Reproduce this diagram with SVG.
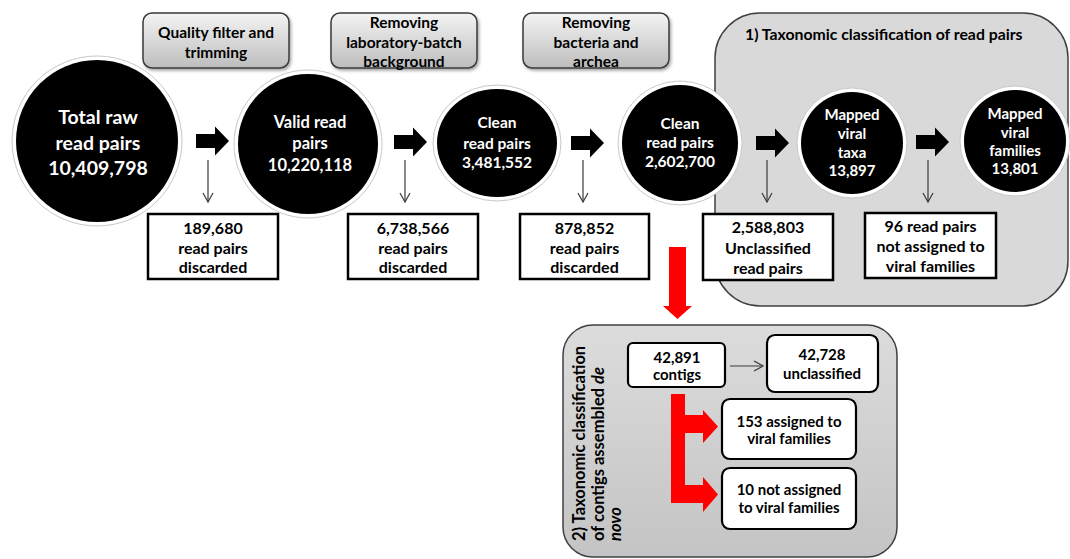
<svg xmlns="http://www.w3.org/2000/svg" width="1070" height="559" viewBox="0 0 1070 559">
<defs>
<linearGradient id="gbox" x1="0" y1="0" x2="0" y2="1">
<stop offset="0" stop-color="#f4f4f4"/><stop offset="1" stop-color="#bdbdbd"/>
</linearGradient>
<linearGradient id="gpan2" x1="0" y1="0" x2="0" y2="1">
<stop offset="0" stop-color="#dcdcdc"/><stop offset="1" stop-color="#c4c4c4"/>
</linearGradient>
<filter id="sh" x="-10%" y="-10%" width="130%" height="140%">
<feDropShadow dx="1.5" dy="2" stdDeviation="1.5" flood-color="#000" flood-opacity="0.35"/>
</filter>
<path id="blk" d="M0,-7 H19 V-14.5 L33,0 L19,14.5 V7 H0 Z"/>
<marker id="vh" markerWidth="12" markerHeight="12" refX="10" refY="6" orient="auto" markerUnits="userSpaceOnUse">
<path d="M1,1 L10,6 L1,11" fill="none" stroke="#3a3a3a" stroke-width="1.2"/>
</marker>
</defs>
<style>
text{font-family:Lato,"Liberation Sans",sans-serif;font-weight:700;text-anchor:middle}
.w{fill:#fff}
.k{fill:#000}
.step{fill:url(#gbox);stroke:#3a3a3a;stroke-width:1.5;filter:url(#sh)}
.disc{fill:#fff;stroke:#000;stroke-width:2.5}
.pbox{fill:#fff;stroke:#000;stroke-width:2.2}
.ring{fill:#fff;stroke:#c8c8c8;stroke-width:1}
.thin{stroke:#3a3a3a;stroke-width:1.2;fill:none;marker-end:url(#vh)}
.red{fill:#ff0000}
.dt{font-size:16px}
.vt{text-anchor:start;font-size:16.5px}
</style>

<!-- panels -->
<g id="panel1">
<rect x="715" y="13" width="353" height="293" rx="45" fill="#d9d9d9" stroke="#404040" stroke-width="1.5"/>
<text x="745" y="40" style="text-anchor:start;font-size:15.8px">1) Taxonomic classification of read pairs</text>
</g>
<g id="panel2">
<rect x="563" y="325" width="334" height="232" rx="30" fill="url(#gpan2)" stroke="#404040" stroke-width="1.5"/>
<text class="vt" transform="translate(585,541) rotate(-90)">2) Taxonomic classification</text>
<text class="vt" transform="translate(604,541) rotate(-90)">of contigs assembled <tspan font-style="italic">de</tspan></text>
<text class="vt" transform="translate(621,541) rotate(-90)"><tspan font-style="italic">novo</tspan></text>
</g>

<!-- step boxes -->
<g id="step1">
<rect class="step" x="143" y="13" width="146" height="55" rx="9"/>
<text x="216" y="37.5" style="font-size:15.5px">Quality filter and</text>
<text x="216" y="57.5" style="font-size:15.5px">trimming</text>
</g>
<g id="step2">
<rect class="step" x="331" y="13" width="146" height="55" rx="9"/>
<text x="404" y="27.5" style="font-size:15.5px">Removing</text>
<text x="404" y="47.5" style="font-size:15.5px">laboratory-batch</text>
<text x="404" y="66.5" style="font-size:15.5px">background</text>
</g>
<g id="step3">
<rect class="step" x="523" y="13" width="146" height="55" rx="9"/>
<text x="596" y="27.5" style="font-size:15.5px">Removing</text>
<text x="596" y="47.5" style="font-size:15.5px">bacteria and</text>
<text x="596" y="66.5" style="font-size:15.5px">archea</text>
</g>

<!-- circles -->
<g id="c1">
<circle class="ring" cx="97" cy="141" r="85"/>
<circle class="k" cx="97" cy="141" r="81"/>
<text class="w" x="98" y="124" style="font-size:19.5px">Total raw</text>
<text class="w" x="98" y="150" style="font-size:19.5px">read pairs</text>
<text class="w" x="98" y="175" style="font-size:19.5px">10,409,798</text>
</g>
<g id="c2">
<circle class="ring" cx="308" cy="144" r="74"/>
<circle class="k" cx="308" cy="144" r="70"/>
<text class="w" x="310" y="128" style="font-size:16.5px">Valid read</text>
<text class="w" x="310" y="149" style="font-size:16.5px">pairs</text>
<text class="w" x="310" y="171" style="font-size:16.5px">10,220,118</text>
</g>
<g id="c3">
<ellipse class="ring" cx="497" cy="143" rx="64" ry="58"/>
<ellipse class="k" cx="497" cy="143" rx="60" ry="54"/>
<text class="w" x="497" y="127.5" style="font-size:15.5px">Clean</text>
<text class="w" x="497" y="148.5" style="font-size:15.5px">read pairs</text>
<text class="w" x="497" y="167.5" style="font-size:15.5px">3,481,552</text>
</g>
<g id="c4">
<circle class="ring" cx="680" cy="143" r="62"/>
<circle class="k" cx="680" cy="143" r="58"/>
<text class="w" x="680" y="128.5" style="font-size:15.5px">Clean</text>
<text class="w" x="680" y="147.5" style="font-size:15.5px">read pairs</text>
<text class="w" x="680" y="166.5" style="font-size:15.5px">2,602,700</text>
</g>
<g id="c5">
<circle class="ring" cx="852" cy="143" r="55"/>
<circle class="k" cx="852" cy="143" r="51"/>
<text class="w" x="852" y="120" style="font-size:15px">Mapped</text>
<text class="w" x="852" y="139" style="font-size:15px">viral</text>
<text class="w" x="852" y="158" style="font-size:15px">taxa</text>
<text class="w" x="852" y="176" style="font-size:15px">13,897</text>
</g>
<g id="c6">
<circle class="ring" cx="1015" cy="141" r="55"/>
<circle class="k" cx="1015" cy="141" r="51"/>
<text class="w" x="1015" y="118.5" style="font-size:15px">Mapped</text>
<text class="w" x="1015" y="137.5" style="font-size:15px">viral</text>
<text class="w" x="1015" y="155.5" style="font-size:15px">families</text>
<text class="w" x="1015" y="173.5" style="font-size:15px">13,801</text>
</g>

<!-- discard boxes -->
<g id="dA">
<rect class="disc" x="148" y="214" width="130" height="65"/>
<text class="dt" x="213" y="233.5">189,680</text>
<text class="dt" x="213" y="253.5">read pairs</text>
<text class="dt" x="213" y="272.5">discarded</text>
</g>
<g id="dB">
<rect class="disc" x="348" y="214" width="130" height="65"/>
<text class="dt" x="413" y="233.5">6,738,566</text>
<text class="dt" x="413" y="253.5">read pairs</text>
<text class="dt" x="413" y="272.5">discarded</text>
</g>
<g id="dC">
<rect class="disc" x="520" y="214" width="129" height="65"/>
<text class="dt" x="584.5" y="233.5">878,852</text>
<text class="dt" x="584.5" y="253.5">read pairs</text>
<text class="dt" x="584.5" y="272.5">discarded</text>
</g>
<g id="dD">
<rect class="disc" x="703" y="214" width="130" height="66"/>
<text class="dt" x="768" y="232.5">2,588,803</text>
<text class="dt" x="768" y="253.5">Unclassified</text>
<text class="dt" x="768" y="273.5">read pairs</text>
</g>
<g id="dE">
<rect class="disc" x="865" y="213" width="131" height="65"/>
<text class="dt" x="930.5" y="231.5">96 read pairs</text>
<text class="dt" x="930.5" y="251.5">not assigned to</text>
<text class="dt" x="930.5" y="271.5">viral families</text>
</g>

<!-- panel 2 boxes -->
<g id="contigs">
<rect class="pbox" x="628" y="343" width="97" height="44" rx="5"/>
<text x="677" y="362.5" style="font-size:15px">42,891</text>
<text x="677" y="379.5" style="font-size:15px">contigs</text>
</g>
<g id="unclassified">
<rect class="pbox" x="767" y="335" width="111" height="57" rx="8"/>
<text x="822" y="359.5" style="font-size:15px">42,728</text>
<text x="822" y="378.5" style="font-size:15px">unclassified</text>
</g>
<g id="assigned">
<rect class="pbox" x="722" y="399" width="134" height="60" rx="8"/>
<text x="789" y="426.5" style="font-size:15px">153 assigned to</text>
<text x="789" y="443.5" style="font-size:15px">viral families</text>
</g>
<g id="notassigned">
<rect class="pbox" x="722" y="468" width="134" height="61" rx="8"/>
<text x="789" y="494.5" style="font-size:15px">10 not assigned</text>
<text x="789" y="512.5" style="font-size:15px">to viral families</text>
</g>

<!-- connectors -->
<g id="connectors">
<use href="#blk" x="196" y="141"/>
<use href="#blk" x="394" y="142"/>
<use href="#blk" x="571" y="143"/>
<use href="#blk" x="756" y="143"/>
<use href="#blk" x="916" y="142"/>
<line class="thin" x1="208" y1="160" x2="208" y2="202"/>
<line class="thin" x1="405" y1="160" x2="405" y2="202"/>
<line class="thin" x1="583" y1="160" x2="583" y2="202"/>
<line class="thin" x1="767" y1="160" x2="767" y2="202"/>
<line class="thin" x1="928" y1="160" x2="928" y2="202"/>
<line class="thin" x1="730" y1="366" x2="763" y2="366"/>
<path class="red" d="M669,247 H686 V306 H692 L677.5,319 L663,306 H669 Z"/>
<path class="red" d="M671,394 H685 V415 H703 V410 L718,426.5 L703,443 V433 H685 V485 H703 V477 L718,494.5 L703,512 V503 H671 Z"/>
</g>
</svg>
